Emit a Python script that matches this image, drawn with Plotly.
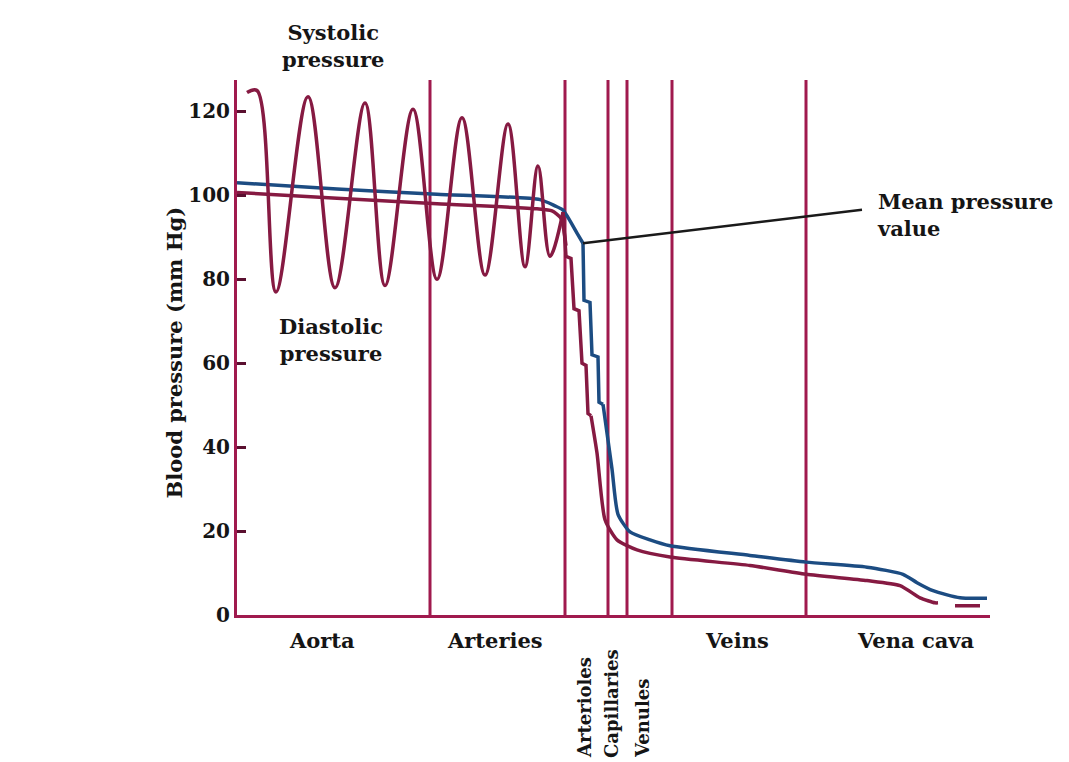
import plotly.graph_objects as go

# ---- data (x = distance along circulation, arbitrary units; y = mm Hg) ----
pulse_x = [10, 20, 39, 71, 98, 128, 148, 176, 200, 225, 248, 271, 288, 301, 313, 326]
pulse_y = [124.5, 125, 77, 123.5, 78, 122, 78.5, 120.5, 80, 118.5, 81, 117, 83, 107, 85.5, 96]

step_red_x = [326, 329, 334, 337, 342, 345, 349, 351, 354]
step_red_y = [96, 85.5, 85, 73, 72.5, 60, 59.5, 48, 47.5]

venous_red_x = [354, 360, 368, 380, 400, 433, 513, 569, 630, 663, 683, 698, 701]
venous_red_y = [47.5, 38.6, 22.7, 17.9, 15.5, 13.8, 11.8, 9.7, 8.2, 7.0, 4.1, 2.9, 2.9]

cava_red_x = [718, 743]
cava_red_y = [2.2, 2.2]

mean_red_x = [0, 100, 200, 300, 315, 324, 329]
mean_red_y = [100.7, 99.3, 98.0, 96.8, 96.3, 94.5, 88]

mean_blue_top_x = [0, 100, 200, 303, 318, 326, 340, 346]
mean_blue_top_y = [103, 101.5, 100.3, 99, 97.5, 96.5, 91, 88.6]

step_blue_x = [346, 347, 353, 355, 361, 362, 366]
step_blue_y = [88.6, 75, 74.5, 62, 61.5, 50.7, 50.2]

venous_blue_x = [366, 375, 381, 393, 413, 433, 513, 569, 630, 666, 680, 696, 723, 750]
venous_blue_y = [50.2, 34.8, 24, 19.8, 17.9, 16.5, 14.2, 12.6, 11.4, 9.7, 7.7, 5.8, 4.1, 4.0]

boundaries = [193, 328, 371, 390, 435, 569]

regions = ["Aorta", "Arteries", "Veins", "Vena cava"]
region_x = [85, 258, 500, 679]

micro = ["Arterioles", "Capillaries", "Venules"]
micro_x = [347, 374, 405]

mean_pointer_x = [346, 625]
mean_pointer_y = [88.6, 96.6]

y_ticks = [0, 20, 40, 60, 80, 100, 120]

# ---- styling ----
CRIMSON = "#a01a4e"
MAROON = "#861a42"
BLUE = "#1c4c82"
TXT = "#151515"
FONT = "DejaVu Serif"

fig = go.Figure()

# vertical region boundaries
vx, vy = [], []
for b in boundaries:
    vx += [b, b, None]
    vy += [0, 127.5, None]
fig.add_trace(go.Scatter(x=vx, y=vy, mode="lines", line=dict(color=CRIMSON, width=3),
                         hoverinfo="skip", showlegend=False))

# mean pressure (blue)
fig.add_trace(go.Scatter(x=mean_blue_top_x, y=mean_blue_top_y, mode="lines",
                         line=dict(color=BLUE, width=3.5, shape="spline", smoothing=0.6),
                         showlegend=False))
fig.add_trace(go.Scatter(x=step_blue_x, y=step_blue_y, mode="lines",
                         line=dict(color=BLUE, width=3.5), showlegend=False))
fig.add_trace(go.Scatter(x=venous_blue_x, y=venous_blue_y, mode="lines",
                         line=dict(color=BLUE, width=3.5, shape="spline", smoothing=0.6),
                         showlegend=False))

# mean pressure (red)
fig.add_trace(go.Scatter(x=mean_red_x, y=mean_red_y, mode="lines",
                         line=dict(color=MAROON, width=3.5, shape="spline", smoothing=0.6),
                         showlegend=False))

# pulse pressure
fig.add_trace(go.Scatter(x=pulse_x, y=pulse_y, mode="lines",
                         line=dict(color=MAROON, width=3.5, shape="spline", smoothing=1.0),
                         showlegend=False))
fig.add_trace(go.Scatter(x=step_red_x, y=step_red_y, mode="lines",
                         line=dict(color=MAROON, width=3.5), showlegend=False))
fig.add_trace(go.Scatter(x=venous_red_x, y=venous_red_y, mode="lines",
                         line=dict(color=MAROON, width=3.5, shape="spline", smoothing=0.6),
                         showlegend=False))
fig.add_trace(go.Scatter(x=cava_red_x, y=cava_red_y, mode="lines",
                         line=dict(color=MAROON, width=3.5), showlegend=False))

# pointer line to "Mean pressure value"
fig.add_trace(go.Scatter(x=mean_pointer_x, y=mean_pointer_y, mode="lines",
                         line=dict(color="#1a1a1a", width=2.5), showlegend=False))

tfont = dict(family=FONT, size=21, color=TXT, weight="bold")

ann = []
ann.append(dict(x=96, y=1.063, xref="x", yref="paper", text="Systolic<br>pressure",
                showarrow=False, font=tfont, align="center", yanchor="middle"))
ann.append(dict(x=94, y=65.5, xref="x", yref="y", text="Diastolic<br>pressure",
                showarrow=False, font=tfont, align="center"))
ann.append(dict(x=638, y=95.4, xref="x", yref="y", text="Mean pressure<br>value",
                showarrow=False, font=tfont, align="left", xanchor="left"))
for name, xv in zip(regions, region_x):
    ann.append(dict(x=xv, y=-0.048, xref="x", yref="paper", text=name, showarrow=False,
                    font=tfont, yanchor="middle"))
for name, xv in zip(micro, micro_x):
    ann.append(dict(x=xv, y=-0.272, xref="x", yref="paper", text=name, showarrow=False,
                    font=dict(family=FONT, size=18, color=TXT, weight="bold"),
                    textangle=-90, yanchor="bottom", xanchor="center"))
ann.append(dict(x=-0.102, y=0.49, xref="paper", yref="paper", text="Blood pressure (mm Hg)",
                showarrow=False, font=tfont, textangle=-90))

# page body adds an 8px offset, so the figure is 8px smaller and margins shifted
fig.update_layout(
    width=1061, height=754,
    margin=dict(l=229, r=79, t=72, b=147),
    paper_bgcolor="#ffffff",
    plot_bgcolor="#ffffff",
    annotations=ann,
    showlegend=False,
    xaxis=dict(range=[0, 753], showgrid=False, zeroline=False, showticklabels=False,
               ticks="", showline=True, linecolor=CRIMSON, linewidth=3, fixedrange=True),
    yaxis=dict(range=[0, 127.5], showgrid=False, zeroline=False, tickvals=y_ticks,
               ticks="inside", ticklen=9, tickwidth=3, tickcolor="#5a1030",
               tickfont=dict(family=FONT, size=20, color=TXT, weight="bold"),
               showline=True, linecolor=CRIMSON, linewidth=3, fixedrange=True),
)

fig.write_html("out.html")
